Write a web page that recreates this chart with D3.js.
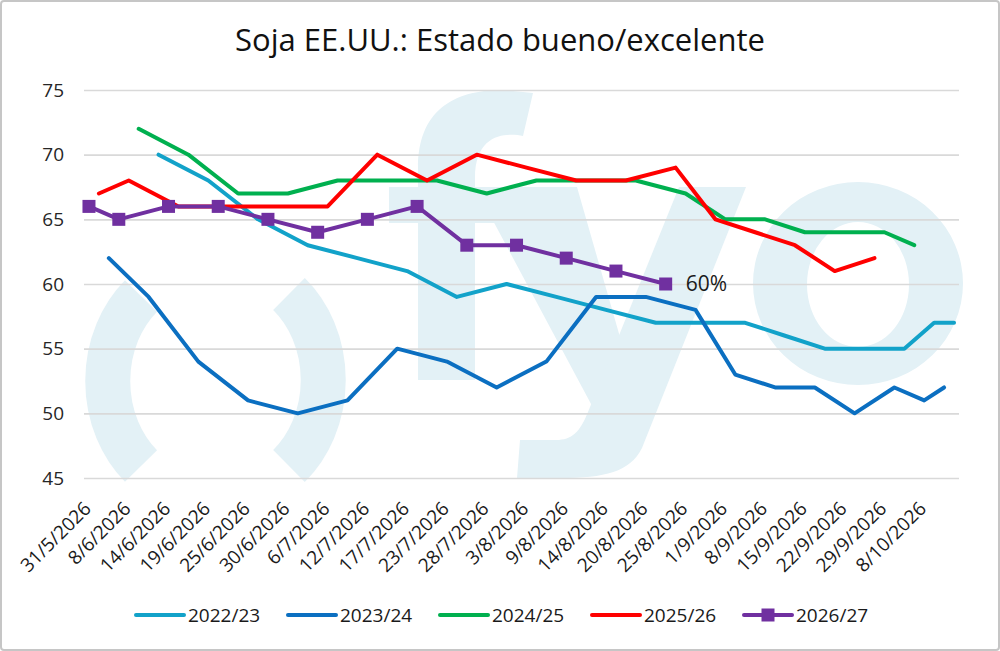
<!DOCTYPE html>
<html>
<head>
<meta charset="utf-8">
<script src="https://cdn.jsdelivr.net/npm/d3@7"></script>
<style>
  body { margin: 0; background: #fff; }
  text { font-family: "Open Sans", sans-serif; }
</style>
</head>
<body>
<svg id="chart" width="1000" height="651"></svg>
<script>
// x axis: 88 merged report dates, one label every 4 slots
const N_SLOTS = 88;
const LABEL_EVERY = 4;
const dateLabels = [
  "31/5/2026", "8/6/2026", "14/6/2026", "19/6/2026", "25/6/2026", "30/6/2026",
  "6/7/2026", "12/7/2026", "17/7/2026", "23/7/2026", "28/7/2026", "3/8/2026",
  "9/8/2026", "14/8/2026", "20/8/2026", "25/8/2026", "1/9/2026", "8/9/2026",
  "15/9/2026", "22/9/2026", "29/9/2026", "8/10/2026"
];
const yTicks = [45, 50, 55, 60, 65, 70, 75];

const seasons = ["2022/23", "2023/24", "2024/25", "2025/26", "2026/27"];
const colors = ["#12a2c9", "#0b6fc1", "#00b04f", "#ff0000", "#7030a0"];

// slot index of each weekly report, and % good/excellent
const slots2223 = [7, 12, 17, 22, 27, 32, 37, 42, 47, 52, 57, 62, 66, 70, 74, 78, 82, 85, 87];
const vals2223 = [70, 68, 65, 63, 62, 61, 59, 60, 59, 58, 57, 57, 57, 56, 55, 55, 55, 57, 57];
const slots2324 = [2, 6, 11, 16, 21, 26, 31, 36, 41, 46, 51, 56, 61, 65, 69, 73, 77, 81, 84, 86];
const vals2324 = [62, 59, 54, 51, 50, 51, 55, 54, 52, 54, 59, 59, 58, 53, 52, 52, 50, 52, 51, 52];
const slots2425 = [5, 10, 15, 20, 25, 30, 35, 40, 45, 50, 55, 60, 64, 68, 72, 76, 80, 83];
const vals2425 = [72, 70, 67, 67, 68, 68, 68, 67, 68, 68, 68, 67, 65, 65, 64, 64, 64, 63];
const slots2526 = [1, 4, 9, 14, 19, 24, 29, 34, 39, 44, 49, 54, 59, 63, 67, 71, 75, 79];
const vals2526 = [67, 68, 66, 66, 66, 66, 70, 68, 70, 69, 68, 68, 69, 65, 64, 63, 61, 62];
const slots2627 = [0, 3, 8, 13, 18, 23, 28, 33, 38, 43, 48, 53, 58];
const vals2627 = [66, 65, 66, 66, 65, 64, 65, 66, 63, 63, 62, 61, 60];

const series = [
  [slots2223, vals2223],
  [slots2324, vals2324],
  [slots2425, vals2425],
  [slots2526, vals2526],
  [slots2627, vals2627],
].map(([s, v], i) => ({
  name: seasons[i],
  color: colors[i],
  markers: i === 4,
  points: s.map((slot, j) => ({ slot, value: v[j] })),
}));

const W = 1000, H = 651;
const plot = { left: 84, right: 959, top: 90, bottom: 478 };
const WATERMARK = "#e3f1f6";

const svg = d3.select("#chart");

svg.append("rect")
  .attr("x", 1).attr("y", 1)
  .attr("width", W - 2).attr("height", H - 2)
  .attr("rx", 3)
  .attr("fill", "#fff")
  .attr("stroke", "#c6c6c6")
  .attr("stroke-width", 2);

const x = d3.scaleLinear()
  .domain([-0.5, N_SLOTS - 0.5])
  .range([plot.left, plot.right]);

const y = d3.scaleLinear()
  .domain([45, 75])
  .range([plot.bottom, plot.top]);

// fyo logo behind the plot
function drawLogo(g) {
  // parentheses: thick elliptical arcs
  g.append("path")
    .attr("d", "M141,296 A97.5,113 0 0,0 141,466")
    .attr("fill", "none").attr("stroke", WATERMARK).attr("stroke-width", 45);
  g.append("path")
    .attr("d", "M289,294 A97.5,113 0 0,1 289,466")
    .attr("fill", "none").attr("stroke", WATERMARK).attr("stroke-width", 45);

  // f
  g.append("path")
    .attr("d", "M418,380 L418,168 C418,112 452,90 502,90 L533,93 L523,136 " +
      "C508,133 475,132 475,178 L475,380 Z")
    .attr("fill", WATERMARK);
  g.append("rect")
    .attr("x", 389).attr("y", 187).attr("width", 128).attr("height", 36)
    .attr("fill", WATERMARK);

  // y
  g.append("path")
    .attr("d", "M475,187 L577,187 L630,372 L606,432 Z")
    .attr("fill", WATERMARK);
  g.append("path")
    .attr("d", "M679,187 L746,187 L642,448 C630,472 605,478 560,478 L517,478 " +
      "L520,440 L556,440 C572,440 580,432 588,412 Z")
    .attr("fill", WATERMARK);

  // o
  const ring = (cx, cy, rx, ry) =>
    `M${cx - rx},${cy} a${rx},${ry} 0 1,0 ${2 * rx},0 a${rx},${ry} 0 1,0 ${-2 * rx},0 Z`;
  g.append("path")
    .attr("d", ring(858, 283.5, 105, 101.5) + ring(858, 284.5, 51, 62.5))
    .attr("fill", WATERMARK)
    .attr("fill-rule", "evenodd");
}
svg.append("g").attr("class", "logo").call(drawLogo);

// gridlines + y labels
const yAxis = svg.append("g")
  .attr("transform", `translate(${plot.left},0)`)
  .call(d3.axisLeft(y)
    .tickValues(yTicks)
    .tickSize(-(plot.right - plot.left))
    .tickPadding(20));
yAxis.select(".domain").remove();
yAxis.selectAll(".tick line")
  .attr("stroke", "#d9d9d9")
  .attr("stroke-width", 1.6);
yAxis.selectAll(".tick text")
  .attr("fill", "#262626")
  .style("font-size", "19px")
  .style("font-family", "Open Sans, sans-serif");

// x labels
const xAxis = svg.append("g")
  .attr("transform", `translate(0,${plot.bottom + 27})`)
  .call(d3.axisBottom(x)
    .tickValues(dateLabels.map((_, i) => i * LABEL_EVERY))
    .tickFormat((d) => dateLabels[d / LABEL_EVERY])
    .tickSize(0)
    .tickPadding(0));
xAxis.select(".domain").remove();
xAxis.selectAll(".tick text")
  .attr("fill", "#1a1a1a")
  .attr("text-anchor", "end")
  .attr("dy", "0.35em")
  .attr("y", 0)
  .attr("transform", "translate(-2,0) rotate(-45)")
  .style("font-size", "19px")
  .style("font-family", "Open Sans, sans-serif");

// series lines
const line = d3.line()
  .x((d) => x(d.slot))
  .y((d) => y(d.value));

const lines = svg.append("g").attr("class", "lines");
series.forEach((s) => {
  lines.append("path")
    .datum(s.points)
    .attr("d", line)
    .attr("fill", "none")
    .attr("stroke", s.color)
    .attr("stroke-width", 4)
    .attr("stroke-linejoin", "round")
    .attr("stroke-linecap", "round");

  if (s.markers) {
    lines.selectAll(null)
      .data(s.points)
      .join("rect")
      .attr("x", (d) => x(d.slot) - 6.5)
      .attr("y", (d) => y(d.value) - 6.5)
      .attr("width", 13)
      .attr("height", 13)
      .attr("fill", s.color);
  }
});

// label on the last 2026/27 value
const lastSeries = series[4];
const last = lastSeries.points[lastSeries.points.length - 1];
svg.append("text")
  .attr("x", x(last.slot) + 20)
  .attr("y", y(last.value))
  .attr("dy", "0.35em")
  .attr("fill", "#1a1a1a")
  .style("font-size", "21px")
  .text(`${last.value}%`);

// title
svg.append("text")
  .attr("x", 500)
  .attr("y", 51)
  .attr("text-anchor", "middle")
  .attr("fill", "#111")
  .style("font-size", "31px")
  .text("Soja EE.UU.: Estado bueno/excelente");

// legend
const legend = svg.append("g")
  .attr("transform", "translate(136,615)");
const item = legend.selectAll("g")
  .data(series)
  .join("g")
  .attr("transform", (d, i) => `translate(${i * 152},0)`);
item.append("line")
  .attr("x1", 0).attr("x2", 48)
  .attr("stroke", (d) => d.color)
  .attr("stroke-width", 4)
  .attr("stroke-linecap", "round");
item.filter((d) => d.markers)
  .append("rect")
  .attr("x", 24 - 6.5).attr("y", -6.5)
  .attr("width", 13).attr("height", 13)
  .attr("fill", (d) => d.color);
item.append("text")
  .attr("x", 52)
  .attr("dy", "0.35em")
  .attr("fill", "#1a1a1a")
  .style("font-size", "19px")
  .text((d) => d.name);
</script>
</body>
</html>
